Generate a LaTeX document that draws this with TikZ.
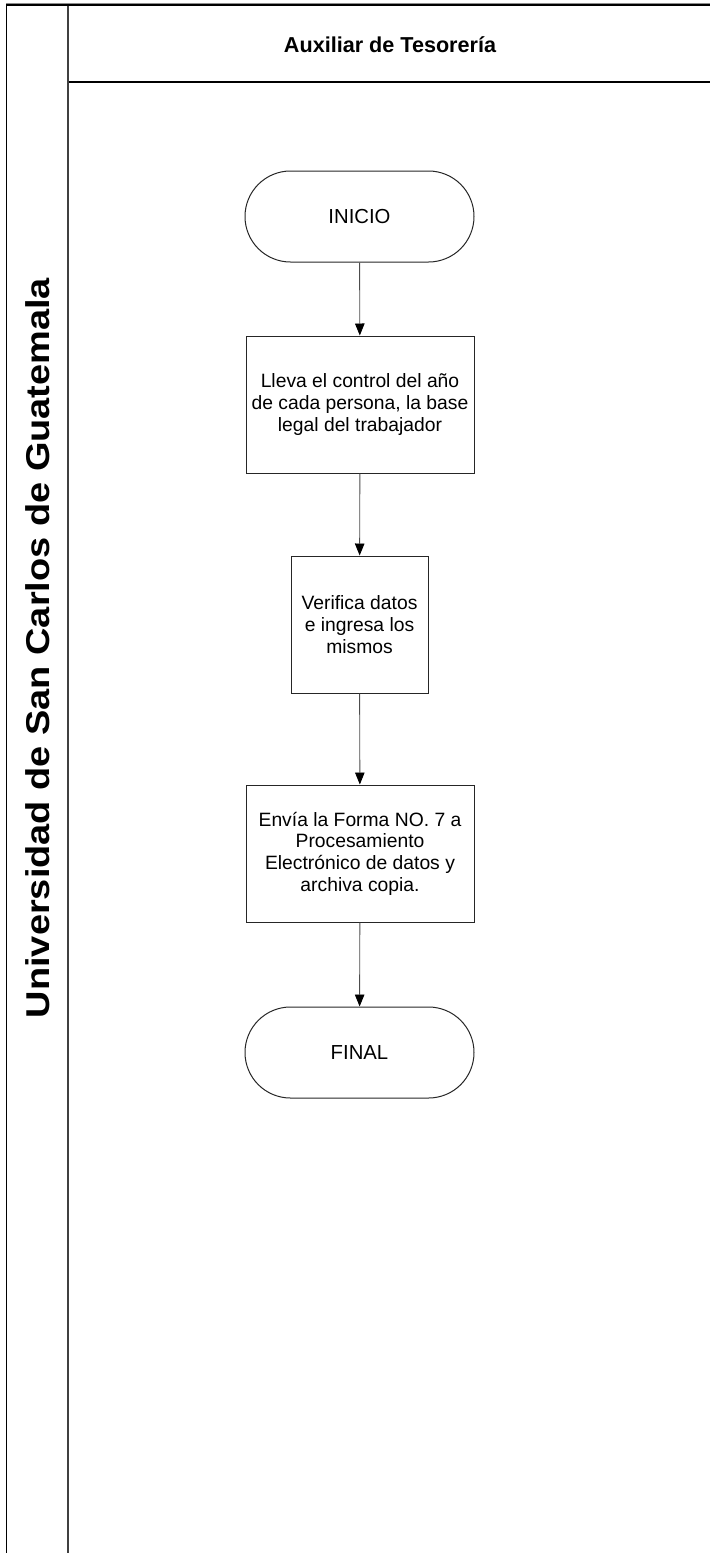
\documentclass[tikz,border=0pt]{standalone}
\usepackage{fontspec}
\setmainfont{Liberation Sans}
\usetikzlibrary{arrows.meta}

\begin{document}
\begin{tikzpicture}[x=1pt,y=-1pt,
  boxtext/.style={font=\fontsize{19.3}{21.7}\selectfont, align=center},
  proc/.style={boxtext, draw=black!85, line width=1pt, inner sep=0pt,
    minimum height=137pt},
  term/.style={boxtext, font=\fontsize{20.3}{22}\selectfont, draw=black!85,
    line width=1pt, inner sep=0pt,
    minimum width=229pt, minimum height=91pt, rounded corners=45.5pt},
  flow/.style={draw=black!70, line width=0.9pt,
    -{Triangle[length=12pt,width=9.5pt,fill=black,color=black]}},
  header/.style={font=\bfseries\fontsize{21.6}{24}\selectfont}
]
\useasboundingbox (0,0) rectangle (710,1553);

% pool frame and lane divisions
\draw[black!45, line width=1.4pt] (6,3.7) -- (710,3.7);
\draw[black, line width=1.7pt] (6,5.3) -- (710,5.3);
\draw[black, line width=1.1pt] (6.5,4.5) -- (6.5,1553);
\draw[black!75, line width=1.8pt] (67.8,5.5) -- (67.8,1553);
\draw[black, line width=1.3pt] (68.5,82) -- (710,82);

% pool and lane titles (the pool title is set slightly wide along its run)
\node[header, rotate=90] (pool) at (37.5,648)
  {\scalebox{1.15}[1]{\fontsize{33}{35}\selectfont Universidad de San Carlos de Guatemala}};
\node[header] (lane) at (390,45) {Auxiliar de Tesorería};

% process steps
\node[term] (inicio) at (359.5,216.5) {INICIO};
\node[proc, minimum width=228pt] (control) at (360,404.5)
  {Lleva el control del año\\de cada persona, la base\\legal del trabajador};
\node[proc, minimum width=137pt] (verifica) at (359.5,624.5)
  {Verifica datos\\e ingresa los\\mismos};
\node[proc, minimum width=228pt] (envia) at (360,853.5)
  {Envía la Forma NO. 7 a\\Procesamiento\\Electrónico de datos y\\archiva copia.};
\node[term] (final) at (359.5,1052.5) {FINAL};

% connectors
\draw[flow] (inicio) -- (control);
\draw[flow] (control) -- (verifica);
\draw[flow] (verifica) -- (envia);
\draw[flow] (envia) -- (final);
\end{tikzpicture}
\end{document}
